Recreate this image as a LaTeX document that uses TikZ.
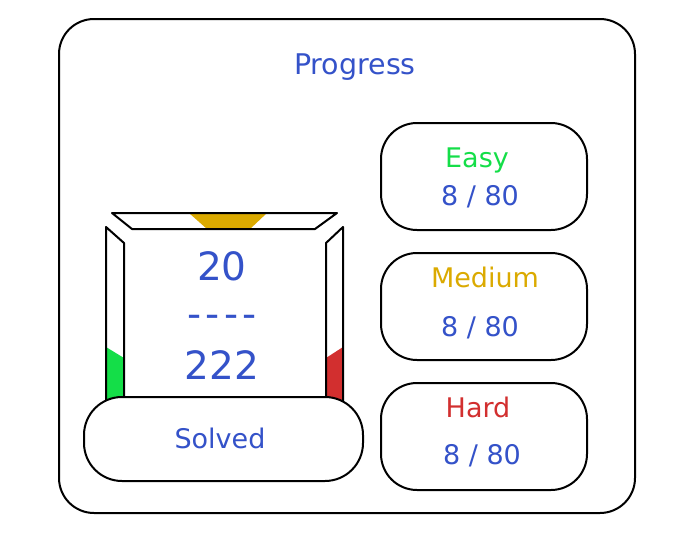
\documentclass[tikz,border=0pt]{standalone}
\usepackage{fontspec}
\setmainfont{DejaVu Sans}
\begin{document}
\begin{tikzpicture}[x=1pt,y=-1pt,
  outl/.style={draw=black,line width=2pt,line join=round},
  pill/.style={outl,fill=white},
  txt/.style={inner sep=0pt,anchor=base,font=\fontsize{27}{30}\selectfont},
  bignum/.style={inner sep=0pt,anchor=base,font=\fontsize{39}{44}\selectfont,text=myblue}]
\definecolor{myblue}{HTML}{3452C9}
\definecolor{mygreen}{HTML}{14DE48}
\definecolor{myyellow}{HTML}{DBAA00}
\definecolor{myred}{HTML}{D22F2F}
\useasboundingbox (0,0) rectangle (683,554);
% outer frame
\draw[outl,rounded corners=35pt] (59,19) rectangle (635,513);
\node[txt,text=myblue,font=\fontsize{28.5}{31}\selectfont] (title) at (355,74) {Progress};
% gauge
\fill[myyellow] (189,213) -- (267,213) -- (250,229) -- (207,229) -- cycle;
\draw[outl] (112,213) -- (337,213) -- (315,229) -- (132,229) -- cycle;
\fill[mygreen] (106,347) -- (124,358) -- (124,410) -- (106,410) -- cycle;
\draw[outl] (106,410) -- (106,227) -- (124,243) -- (124,410);
\fill[myred] (343,347) -- (326,358) -- (326,410) -- (343,410) -- cycle;
\draw[outl] (343,410) -- (343,227) -- (326,243) -- (326,410);
\node[bignum] (solvedn) at (222,280) {20};
\node[bignum] (sep) at (222,327) {-\kern4pt-\kern4pt-\kern4pt-};
\node[bignum] (total) at (222,379) {222};
% solved pill
\draw[pill,rounded corners=38pt] (84,397) rectangle (363,481);
\node[txt,text=myblue] (solved) at (220,448) {Solved};
% right boxes
\draw[pill,rounded corners=36pt] (381,123) rectangle (587,230);
\draw[pill,rounded corners=36pt] (381,253) rectangle (587,360);
\draw[pill,rounded corners=36pt] (381,383) rectangle (587,490);
\node[txt,text=mygreen] (easy) at (477,167) {Easy};
\node[txt,text=myblue] (easyn) at (480,205) {8 / 80};
\node[txt,text=myyellow] (med) at (485,287) {Medium};
\node[txt,text=myblue] (medn) at (480,336) {8 / 80};
\node[txt,text=myred] (hard) at (478,417) {Hard};
\node[txt,text=myblue] (hardn) at (482,464) {8 / 80};
\end{tikzpicture}
\end{document}
